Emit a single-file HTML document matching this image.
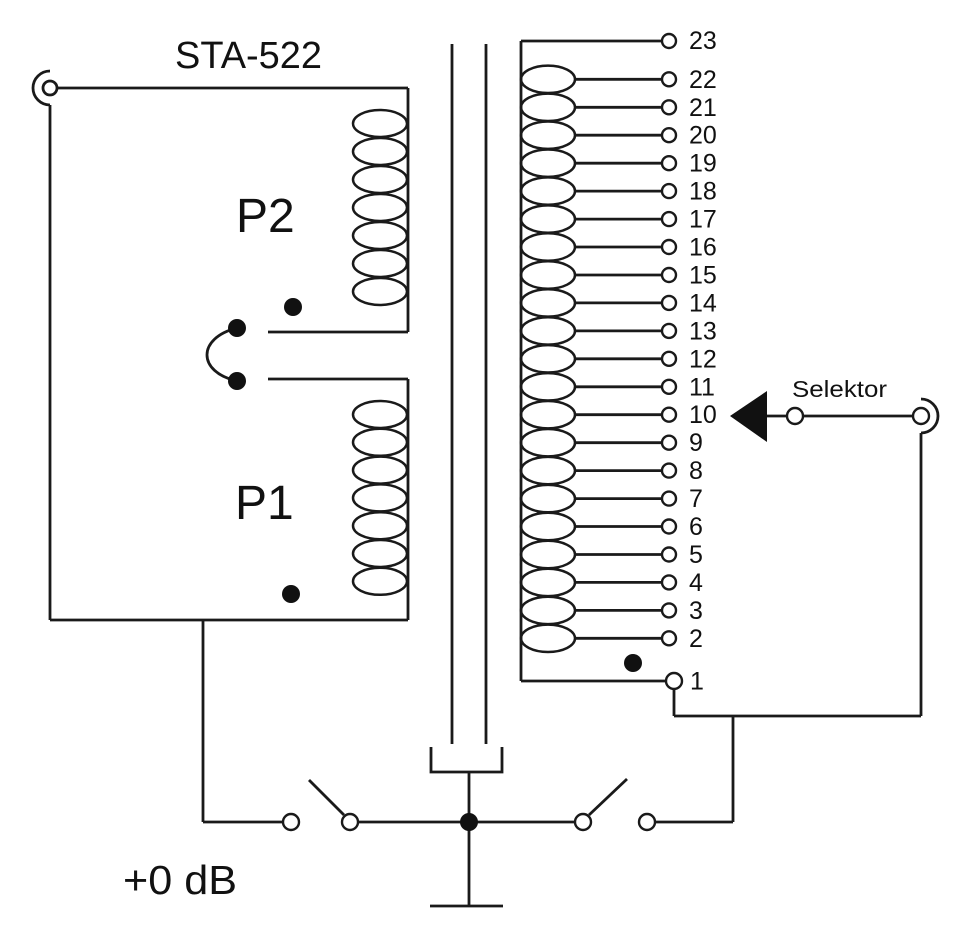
<!DOCTYPE html>
<html><head><meta charset="utf-8"><style>
html,body{margin:0;padding:0;background:#fff;}
svg{display:block;}
text{font-family:"Liberation Sans",Arial,sans-serif;fill:#111;}
</style></head><body>
<svg width="970" height="939" viewBox="0 0 970 939" xmlns="http://www.w3.org/2000/svg">
<g fill="none" stroke="#1a1a1a" stroke-width="2.8" stroke-linecap="butt">
<!-- left jack -->
<path d="M50,71 A17,17 0 0 0 50,105"/>
<circle cx="50" cy="88" r="7" fill="#fff"/>
<line x1="57" y1="88" x2="408" y2="88"/>
<line x1="50" y1="105" x2="50" y2="620"/>
<line x1="408" y1="88" x2="408" y2="332"/>
<line x1="268" y1="332" x2="408" y2="332"/>
<line x1="268" y1="379" x2="408" y2="379"/>
<line x1="408" y1="379" x2="408" y2="620"/>
<line x1="50" y1="620" x2="408" y2="620"/>
<line x1="203" y1="620" x2="203" y2="822"/>
<line x1="203" y1="822" x2="283" y2="822"/>
<!-- link -->
<path d="M237,328 C197,338 197,372 237,381"/>
<!-- P2 coil -->
<g stroke-width="2.5">
<ellipse cx="380" cy="123.5" rx="27" ry="13.5"/>
<ellipse cx="380" cy="151.5" rx="27" ry="13.5"/>
<ellipse cx="380" cy="179.5" rx="27" ry="13.5"/>
<ellipse cx="380" cy="207.5" rx="27" ry="13.5"/>
<ellipse cx="380" cy="235.5" rx="27" ry="13.5"/>
<ellipse cx="380" cy="263.5" rx="27" ry="13.5"/>
<ellipse cx="380" cy="291.5" rx="27" ry="13.5"/>
<!-- P1 coil -->
<ellipse cx="380" cy="414.5" rx="27" ry="13.5"/>
<ellipse cx="380" cy="442.3" rx="27" ry="13.5"/>
<ellipse cx="380" cy="470.1" rx="27" ry="13.5"/>
<ellipse cx="380" cy="497.9" rx="27" ry="13.5"/>
<ellipse cx="380" cy="525.7" rx="27" ry="13.5"/>
<ellipse cx="380" cy="553.5" rx="27" ry="13.5"/>
<ellipse cx="380" cy="581.3" rx="27" ry="13.5"/>
</g>
<!-- core -->
<line x1="452" y1="44" x2="452" y2="744"/>
<line x1="486" y1="44" x2="486" y2="744"/>
<polyline points="431,747 431,772 502,772 502,747"/>
<line x1="469" y1="772" x2="469" y2="906"/>
<line x1="430" y1="906" x2="503" y2="906"/>
<!-- switches -->
<line x1="350" y1="822" x2="583" y2="822"/>
<line x1="344" y1="815" x2="309" y2="780"/>
<line x1="589" y1="815" x2="627" y2="779"/>
<line x1="655" y1="822" x2="733" y2="822"/>
<line x1="733" y1="716" x2="733" y2="822"/>
<!-- secondary -->
<line x1="521" y1="41" x2="521" y2="681"/>
<line x1="521" y1="41" x2="662" y2="41"/>
<line x1="521" y1="681" x2="666" y2="681"/>
<line x1="674" y1="689" x2="674" y2="716"/>
<line x1="674" y1="716" x2="921" y2="716"/>
<line x1="921" y1="433" x2="921" y2="716"/>
<g stroke-width="2.5">
<ellipse cx="548" cy="638.3" rx="27" ry="13.7"/>
<ellipse cx="548" cy="610.4" rx="27" ry="13.7"/>
<ellipse cx="548" cy="582.4" rx="27" ry="13.7"/>
<ellipse cx="548" cy="554.5" rx="27" ry="13.7"/>
<ellipse cx="548" cy="526.5" rx="27" ry="13.7"/>
<ellipse cx="548" cy="498.6" rx="27" ry="13.7"/>
<ellipse cx="548" cy="470.6" rx="27" ry="13.7"/>
<ellipse cx="548" cy="442.7" rx="27" ry="13.7"/>
<ellipse cx="548" cy="414.7" rx="27" ry="13.7"/>
<ellipse cx="548" cy="386.8" rx="27" ry="13.7"/>
<ellipse cx="548" cy="358.8" rx="27" ry="13.7"/>
<ellipse cx="548" cy="330.9" rx="27" ry="13.7"/>
<ellipse cx="548" cy="302.9" rx="27" ry="13.7"/>
<ellipse cx="548" cy="275.0" rx="27" ry="13.7"/>
<ellipse cx="548" cy="247.0" rx="27" ry="13.7"/>
<ellipse cx="548" cy="219.1" rx="27" ry="13.7"/>
<ellipse cx="548" cy="191.1" rx="27" ry="13.7"/>
<ellipse cx="548" cy="163.2" rx="27" ry="13.7"/>
<ellipse cx="548" cy="135.2" rx="27" ry="13.7"/>
<ellipse cx="548" cy="107.3" rx="27" ry="13.7"/>
<ellipse cx="548" cy="79.3" rx="27" ry="13.7"/>
</g>
<!-- tap lines -->
<line x1="575" y1="638.3" x2="662" y2="638.3"/>
<line x1="575" y1="610.4" x2="662" y2="610.4"/>
<line x1="575" y1="582.4" x2="662" y2="582.4"/>
<line x1="575" y1="554.5" x2="662" y2="554.5"/>
<line x1="575" y1="526.5" x2="662" y2="526.5"/>
<line x1="575" y1="498.6" x2="662" y2="498.6"/>
<line x1="575" y1="470.6" x2="662" y2="470.6"/>
<line x1="575" y1="442.7" x2="662" y2="442.7"/>
<line x1="575" y1="414.7" x2="662" y2="414.7"/>
<line x1="575" y1="386.8" x2="662" y2="386.8"/>
<line x1="575" y1="358.8" x2="662" y2="358.8"/>
<line x1="575" y1="330.9" x2="662" y2="330.9"/>
<line x1="575" y1="302.9" x2="662" y2="302.9"/>
<line x1="575" y1="275.0" x2="662" y2="275.0"/>
<line x1="575" y1="247.0" x2="662" y2="247.0"/>
<line x1="575" y1="219.1" x2="662" y2="219.1"/>
<line x1="575" y1="191.1" x2="662" y2="191.1"/>
<line x1="575" y1="163.2" x2="662" y2="163.2"/>
<line x1="575" y1="135.2" x2="662" y2="135.2"/>
<line x1="575" y1="107.3" x2="662" y2="107.3"/>
<line x1="575" y1="79.3" x2="662" y2="79.3"/>
<!-- tap circles -->
<g fill="#fff" stroke-width="2.4">
<circle cx="669" cy="41" r="7"/>
<circle cx="669" cy="79.3" r="7"/>
<circle cx="669" cy="107.3" r="7"/>
<circle cx="669" cy="135.2" r="7"/>
<circle cx="669" cy="163.2" r="7"/>
<circle cx="669" cy="191.1" r="7"/>
<circle cx="669" cy="219.1" r="7"/>
<circle cx="669" cy="247.0" r="7"/>
<circle cx="669" cy="275.0" r="7"/>
<circle cx="669" cy="302.9" r="7"/>
<circle cx="669" cy="330.9" r="7"/>
<circle cx="669" cy="358.8" r="7"/>
<circle cx="669" cy="386.8" r="7"/>
<circle cx="669" cy="414.7" r="7"/>
<circle cx="669" cy="442.7" r="7"/>
<circle cx="669" cy="470.6" r="7"/>
<circle cx="669" cy="498.6" r="7"/>
<circle cx="669" cy="526.5" r="7"/>
<circle cx="669" cy="554.5" r="7"/>
<circle cx="669" cy="582.4" r="7"/>
<circle cx="669" cy="610.4" r="7"/>
<circle cx="669" cy="638.3" r="7"/>
<circle cx="674" cy="681" r="8"/>
<circle cx="291" cy="822" r="8"/>
<circle cx="350" cy="822" r="8"/>
<circle cx="583" cy="822" r="8"/>
<circle cx="647" cy="822" r="8"/>
</g>
<!-- selector -->
<line x1="765" y1="416" x2="787" y2="416"/>
<line x1="803" y1="416" x2="913" y2="416"/>
<path d="M921,399 A17,17 0 0 1 921,433"/>
<circle cx="795" cy="416" r="8" fill="#fff" stroke-width="2.4"/>
<circle cx="921" cy="416" r="8" fill="#fff" stroke-width="2.4"/>
</g>
<polygon points="730,416 767,391 767,442" fill="#111"/>
<!-- dots -->
<g fill="#111">
<circle cx="293" cy="307" r="9"/>
<circle cx="237" cy="328" r="9"/>
<circle cx="237" cy="381" r="9"/>
<circle cx="291" cy="594" r="9"/>
<circle cx="633" cy="663" r="9"/>
<circle cx="469" cy="822" r="9"/>
</g>
<!-- text -->
<text x="175" y="68" font-size="38" textLength="147" lengthAdjust="spacingAndGlyphs">STA-522</text>
<text x="236" y="232" font-size="48">P2</text>
<text x="235" y="519" font-size="48">P1</text>
<text x="123" y="894" font-size="41" textLength="114" lengthAdjust="spacingAndGlyphs">+0 dB</text>
<text x="792" y="397" font-size="23" textLength="95" lengthAdjust="spacingAndGlyphs">Selektor</text>
<g font-size="25">
<text x="689" y="49">23</text>
<text x="689" y="87.8">22</text>
<text x="689" y="115.8">21</text>
<text x="689" y="143.7">20</text>
<text x="689" y="171.7">19</text>
<text x="689" y="199.6">18</text>
<text x="689" y="227.6">17</text>
<text x="689" y="255.5">16</text>
<text x="689" y="283.5">15</text>
<text x="689" y="311.4">14</text>
<text x="689" y="339.4">13</text>
<text x="689" y="367.3">12</text>
<text x="689" y="395.3">11</text>
<text x="689" y="423.2">10</text>
<text x="689" y="451.2">9</text>
<text x="689" y="479.1">8</text>
<text x="689" y="507.1">7</text>
<text x="689" y="535">6</text>
<text x="689" y="563">5</text>
<text x="689" y="590.9">4</text>
<text x="689" y="618.9">3</text>
<text x="689" y="646.8">2</text>
<text x="690" y="689.5">1</text>
</g>
</svg>
</body></html>
